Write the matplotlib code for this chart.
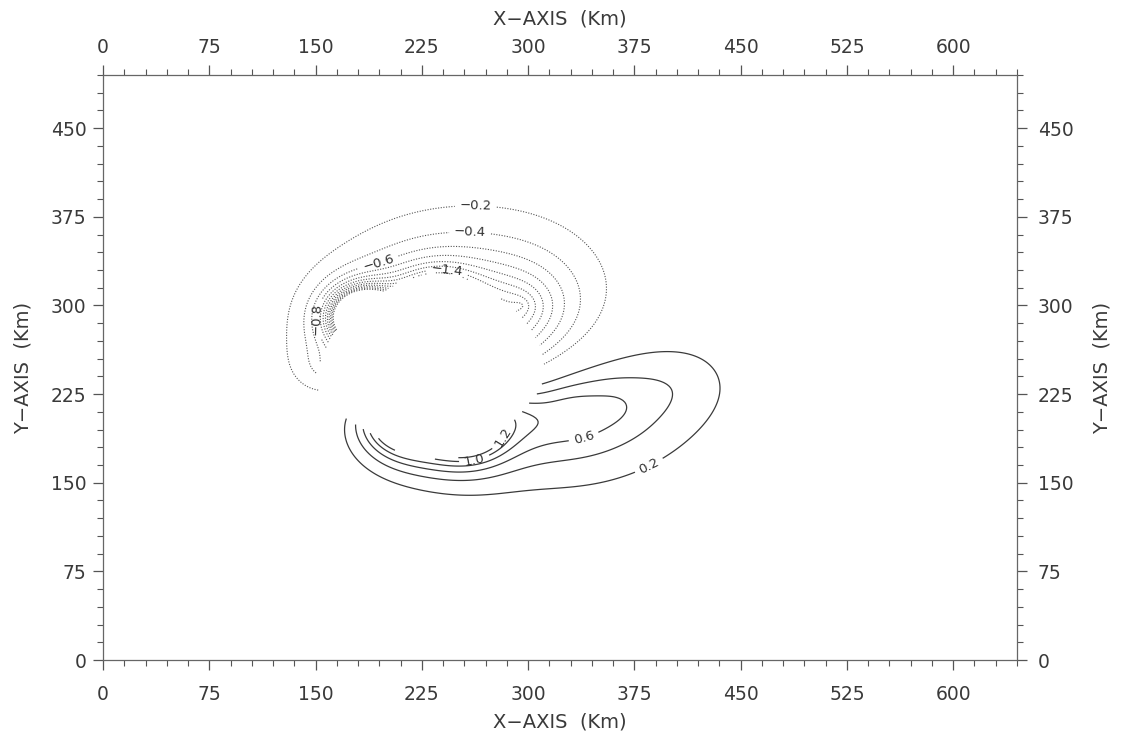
import numpy as np
import matplotlib.pyplot as plt
from matplotlib.path import Path
from matplotlib.ticker import MultipleLocator

# contour levels drawn in the figure
neg_levels = [-2.4, -2.2, -2.0, -1.8, -1.6, -1.4, -1.2, -1.0, -0.8, -0.6, -0.4, -0.2]
pos_levels = [0.2, 0.4, 0.6, 0.8, 1.0, 1.2]

# anomaly centres (km), amplitude, e-folding length (km), core (km)
neg_x = [238, 185, 295, 235, 158]
neg_y = [275, 290, 300, 300, 250]
neg_amp = [-5.0, -28.0, -1.1, -9.0, -0.4]
neg_len = [30, 8.5, 35, 10, 15]
neg_core = [0, 0, 0, 0, 0]

pos_x = [215, 255, 300, 332, 362, 390, 415]
pos_y = [205, 200, 205, 208, 215, 226, 236]
pos_amp = [5.7, 6.0, 0.7, 0.78, 0.46, 0.24, 0.23]
pos_len = [16, 16, 30, 30, 30, 30, 32]
pos_core = [0, 0, 14, 14, 14, 14, 14]

# blank region in the middle (no contours drawn), outline in km
hole_x = [311, 307, 298, 287, 270, 250, 230, 210, 192, 175, 163, 155, 150, 153,
          166, 178, 195, 210, 232, 256, 272, 287, 298, 308]
hole_y = [250, 268, 285, 300, 315, 325, 327, 320, 306, 292, 276, 258, 240, 224,
          210, 200, 188, 174, 170, 172, 182, 200, 214, 230]

# labelled contours and where their labels sit (km)
neg_label_levels = [-1.4, -0.8, -0.6, -0.4, -0.2]
neg_label_pos = [(263, 379), (259, 361), (194, 338), (151, 289), (243, 329)]
pos_label_levels = [0.2, 0.6, 1.0, 1.2]
pos_label_pos = [(383, 170), (341, 181), (280, 190), (262, 170)]

x = np.linspace(0, 645, 430)
y = np.linspace(0, 495, 330)
X, Y = np.meshgrid(x, y)
Z = np.zeros_like(X)
for cx, cy, a, s, c in zip(neg_x + pos_x, neg_y + pos_y, neg_amp + pos_amp,
                           neg_len + pos_len, neg_core + pos_core):
    r = np.sqrt((X - cx) ** 2 + (Y - cy) ** 2 + c * c)
    Z += a * np.exp(-r / s)

hole = Path(np.column_stack([hole_x, hole_y]))
inside = hole.contains_points(np.column_stack([X.ravel(), Y.ravel()])).reshape(X.shape)
Z = np.ma.array(Z, mask=inside)


def fmt(v):
    return ('%.1f' % v).replace('-', '\u2212')


def unlabelled(levels, labelled):
    return [v for v in levels if min(abs(v - w) for w in labelled) > 1e-6]


fig = plt.figure(figsize=(11.24, 7.33), dpi=100)
ax = fig.add_axes([103 / 1124, 73 / 733, 914 / 1124, 585 / 733])

neg_style = dict(colors='#555555', linestyles=[(0, (1, 1.4))], linewidths=0.8)
pos_style = dict(colors='#3a3a3a', linestyles='solid', linewidths=0.9)
ax.contour(X, Y, Z, levels=unlabelled(neg_levels, neg_label_levels), **neg_style)
ax.contour(X, Y, Z, levels=unlabelled(pos_levels, pos_label_levels), **pos_style)
cn = ax.contour(X, Y, Z, levels=neg_label_levels, **neg_style)
cp = ax.contour(X, Y, Z, levels=pos_label_levels, **pos_style)
ax.clabel(cn, manual=neg_label_pos, fmt=fmt, fontsize=9.5, colors='#333333', inline=True)
ax.clabel(cp, manual=pos_label_pos, fmt=fmt, fontsize=9.5, colors='#333333', inline=True)

ticks_x = np.arange(0, 601, 75)
ticks_y = np.arange(0, 451, 75)
ax.set_xlim(0, 645)
ax.set_ylim(0, 495)
ax.set_xticks(ticks_x)
ax.set_yticks(ticks_y)
ax.xaxis.set_minor_locator(MultipleLocator(15))
ax.yaxis.set_minor_locator(MultipleLocator(15))
ax.tick_params(which='both', direction='out', top=True, right=True,
               colors='#555555', labelcolor='#3a3a3a', labelsize=13.5)
ax.tick_params(which='major', length=7, width=0.9)
ax.tick_params(which='minor', length=4, width=0.8)
ax.tick_params(axis='x', which='major', pad=11)
ax.tick_params(axis='y', which='major', pad=5)
for sp in ax.spines.values():
    sp.set_color('#666666')
    sp.set_linewidth(0.9)

lab = dict(fontsize=14, color='#3a3a3a')
ax.set_xlabel('X\u2212AXIS  (Km)', labelpad=6, **lab)
ax.set_ylabel('Y\u2212AXIS  (Km)', labelpad=13, **lab)

# copies of the axes on top and right, carrying their own labels
top = ax.secondary_xaxis('top')
top.set_xticks(ticks_x)
top.tick_params(length=0, pad=13, labelsize=13.5, labelcolor='#3a3a3a')
top.set_xlabel('X\u2212AXIS  (Km)', labelpad=10, **lab)
top.spines['top'].set_visible(False)
right = ax.secondary_yaxis('right')
right.set_yticks(ticks_y)
right.tick_params(length=0, pad=15, labelsize=13.5, labelcolor='#3a3a3a')
right.set_ylabel('Y\u2212AXIS  (Km)', labelpad=14, **lab)
right.spines['right'].set_visible(False)

fig.savefig('out.png', dpi=100)
